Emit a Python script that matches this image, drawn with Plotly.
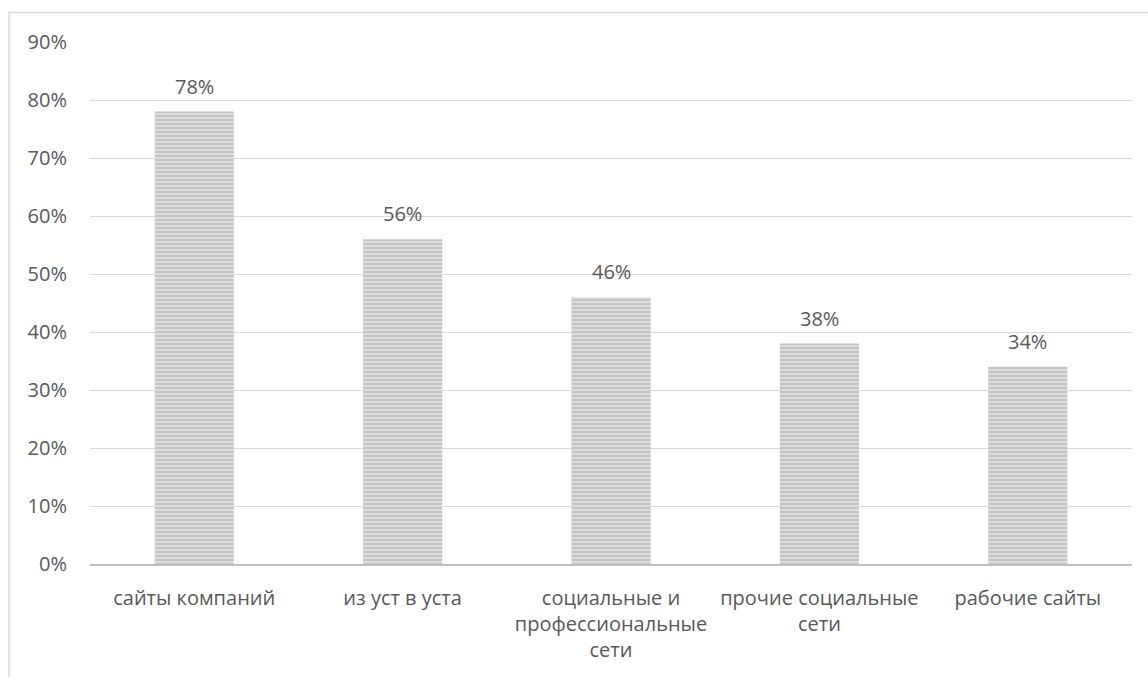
import plotly.graph_objects as go

categories = ["сайты компаний", "из уст в уста", "социальные и профессиональные сети",
              "прочие социальные сети", "рабочие сайты"]
tick_labels = ["сайты компаний", "из уст в уста", "социальные и<br>профессиональные<br>сети",
               "прочие социальные<br>сети", "рабочие сайты"]
values = [0.78, 0.56, 0.46, 0.38, 0.34]
label_texts = ["78%", "56%", "46%", "38%", "34%"]
y_ticks = [0, 0.1, 0.2, 0.3, 0.4, 0.5, 0.6, 0.7, 0.8, 0.9]

FONT = "Open Sans"
TXT = "#595959"
FS = 20

fig = go.Figure()
fig.add_trace(go.Bar(
    x=categories, y=values, width=0.38,
    marker=dict(
        color="#e0e0e0",
        line=dict(width=0),
        pattern=dict(shape="-", fgcolor="#a6a6a6", bgcolor="#e2e2e2", size=4, solidity=0.6),
    ),
    hoverinfo="skip",
))

for c, v, t in zip(categories, values, label_texts):
    fig.add_annotation(x=c, y=v, text=t, showarrow=False, yanchor="bottom", yshift=10,
                       font=dict(family=FONT, size=FS, color=TXT))

fig.add_shape(type="rect", xref="paper", yref="paper",
              x0=(9 - 90) / 1042, x1=1.03, y0=-0.3, y1=(564 - 12.5) / 522,
              line=dict(color="#d9d9d9", width=1.5), fillcolor="rgba(0,0,0,0)", layer="below")

fig.update_layout(
    width=1148, height=677,
    margin=dict(l=90, r=16, t=42, b=113),
    paper_bgcolor="white", plot_bgcolor="white",
    showlegend=False,
    bargap=0.62,
    font=dict(family=FONT, size=FS, color=TXT),
    xaxis=dict(
        tickmode="array", tickvals=categories, ticktext=tick_labels,
        showgrid=False, showline=True, linecolor="#bfbfbf", linewidth=2,
        ticks="", tickfont=dict(family=FONT, size=FS, color=TXT),
        ticklabelstandoff=15,
    ),
    yaxis=dict(
        range=[0, 0.9], tickvals=y_ticks, tickformat=".0%",
        showgrid=True, gridcolor="#d9d9d9", gridwidth=1,
        zeroline=False, showline=False, ticks="",
        tickfont=dict(family=FONT, size=FS, color=TXT),
        ticklabelstandoff=22,
    ),
)

fig.write_html("out.html")
